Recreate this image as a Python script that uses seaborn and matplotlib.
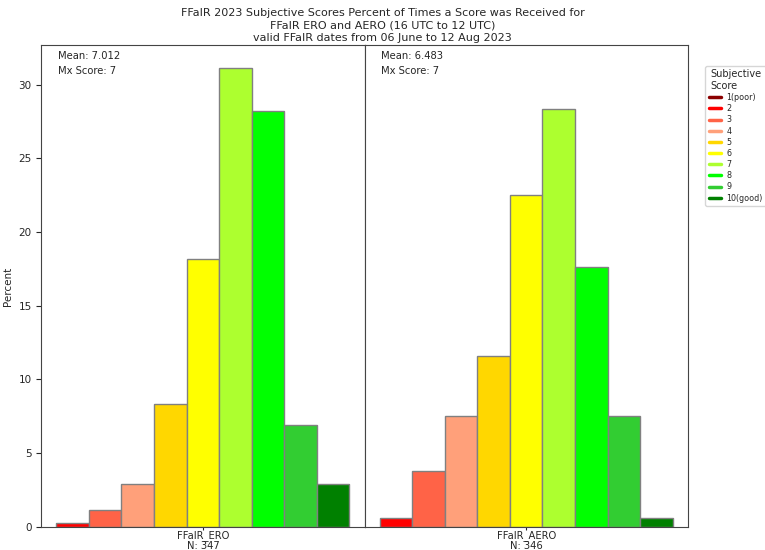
#!/usr/bin/env python3
"""FFaIR 2023 subjective score distribution, ERO vs AERO."""

import matplotlib
matplotlib.use("Agg")
import matplotlib.pyplot as plt
import pandas as pd
import seaborn as sns
from matplotlib.lines import Line2D

scores = [1, 2, 3, 4, 5, 6, 7, 8, 9, 10]
score_labels = ["1(poor)", "2", "3", "4", "5", "6", "7", "8", "9", "10(good)"]
score_colors = ["darkred", "red", "tomato", "lightsalmon", "gold",
                "yellow", "greenyellow", "lime", "limegreen", "green"]

ero_pct = [0.0, 0.29, 1.15, 2.88, 8.36, 18.16, 31.12, 28.24, 6.92, 2.88]
aero_pct = [0.0, 0.58, 3.76, 7.51, 11.56, 22.54, 28.32, 17.63, 7.51, 0.58]

products = ["FFaIR_ERO", "FFaIR_AERO"]
n_cases = [347, 346]
means = [7.012, 6.483]
mx_scores = [7, 7]


def main() -> None:
    sns.set_style("ticks")
    plt.rcParams["font.family"] = ["DejaVu Sans"]

    fig, axes = plt.subplots(1, 2, figsize=(7.65, 5.5), dpi=100, sharey=True)
    fig.subplots_adjust(left=0.054, right=0.899, top=0.918, bottom=0.042, wspace=0)

    for ax, prod, pct, n, mean, mx in zip(axes, products, [ero_pct, aero_pct],
                                          n_cases, means, mx_scores):
        df = pd.DataFrame({"product": prod, "score": scores, "percent": pct})
        df = df[df["percent"] > 0]
        order = [s for s in scores if s in set(df["score"])]
        pal = {s: c for s, c in zip(scores, score_colors)}
        sns.barplot(data=df, x="product", y="percent", hue="score",
                    hue_order=order, palette=pal, width=0.907, dodge=True,
                    saturation=1, edgecolor="grey", linewidth=1,
                    legend=False, ax=ax)
        ax.set_xlim(-0.5, 0.5)
        ax.set_xticks([0])
        ax.set_xticklabels([f"{prod}\nN: {n}"], fontsize=7.2, linespacing=0.95)
        ax.tick_params(axis="x", length=2, pad=0.5)
        ax.set_xlabel("")
        ax.text(0.052, 0.977, f"Mean: {mean:.3f}", transform=ax.transAxes,
                fontsize=7.2, va="center")
        ax.text(0.052, 0.946, f"Mx Score: {mx}", transform=ax.transAxes,
                fontsize=7.2, va="center")
        for s in ax.spines.values():
            s.set_color("#444444")

    axes[0].set_ylabel("Percent", fontsize=7.5)
    axes[0].tick_params(axis="y", labelsize=7.5)
    axes[1].set_ylabel("")
    axes[1].tick_params(axis="y", left=False, labelleft=False)

    fig.suptitle("FFaIR 2023 Subjective Scores Percent of Times a Score was Received for\n"
                 "FFaIR ERO and AERO (16 UTC to 12 UTC)\n"
                 "valid FFaIR dates from 06 June to 12 Aug 2023",
                 fontsize=8, y=0.985, linespacing=1.3)

    handles = [Line2D([0], [0], color=c, lw=2.5) for c in score_colors]
    fig.legend(handles, score_labels, title="Subjective\nScore",
               loc="upper left", bbox_to_anchor=(0.922, 0.88),
               fontsize=5.8, title_fontsize=7, handlelength=1.6,
               handletextpad=0.6, labelspacing=0.27, borderaxespad=0,
               frameon=True)

    fig.savefig("out.png", dpi=100)
    plt.close(fig)


if __name__ == "__main__":
    main()
